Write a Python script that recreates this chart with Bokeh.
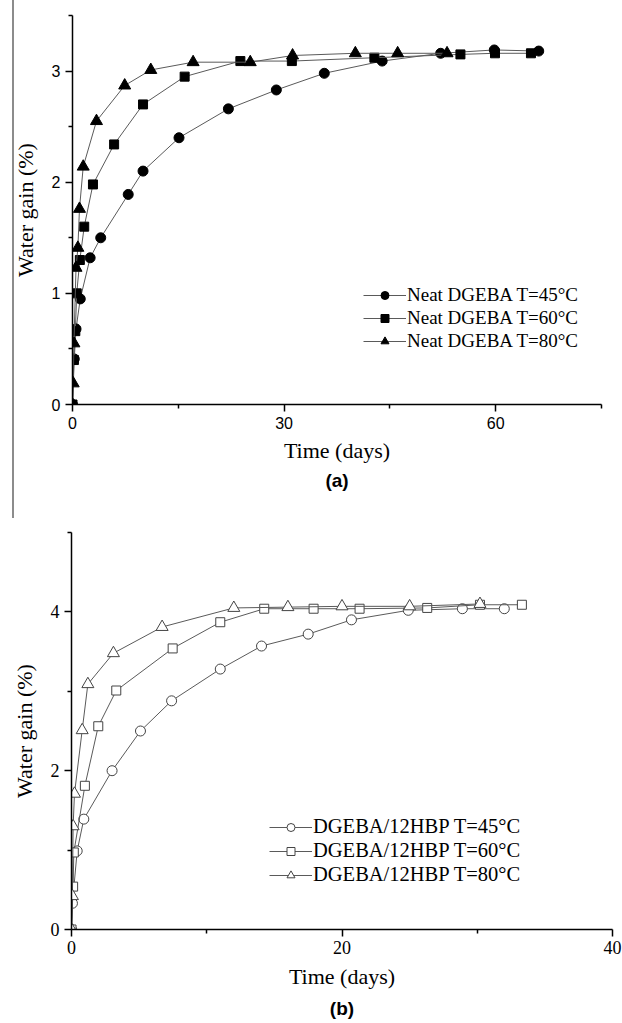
from bokeh.plotting import figure
from bokeh.models import (Range1d, FixedTicker, Legend, LegendItem, Title)
from bokeh.layouts import column
from bokeh.embed import file_html
from bokeh.resources import INLINE

# ---------------- Panel (a): Neat DGEBA ----------------
a_t45 = [0, 0.25, 0.5, 1.1, 2.5, 4.0, 7.9, 10.0, 15.1, 22.1, 28.9, 35.7, 43.9, 52.2, 59.8, 66.1]
a_w45 = [0, 0.41, 0.68, 0.95, 1.32, 1.50, 1.89, 2.10, 2.40, 2.66, 2.83, 2.98, 3.09, 3.16, 3.19, 3.18]
a_t60 = [0, 0.2, 0.4, 0.6, 1.04, 1.66, 2.9, 5.9, 10.0, 15.9, 23.8, 31.1, 42.8, 55.0, 59.9, 65.0]
a_w60 = [0, 0.40, 0.66, 1.0, 1.30, 1.60, 1.98, 2.34, 2.70, 2.95, 3.09, 3.09, 3.12, 3.15, 3.16, 3.16]
a_t80 = [0, 0.1, 0.2, 0.5, 0.76, 0.99, 1.52, 3.4, 7.4, 11.1, 17.1, 25.2, 31.2, 40.1, 46.1, 53.1]
a_w80 = [0, 0.19, 0.55, 1.23, 1.41, 1.76, 2.14, 2.55, 2.87, 3.01, 3.08, 3.08, 3.14, 3.16, 3.16, 3.16]
a_labels = ["Neat DGEBA T=45°C", "Neat DGEBA T=60°C", "Neat DGEBA T=80°C"]

# ---------------- Panel (b): DGEBA/12HBP ----------------
b_t45 = [0, 0.07, 0.42, 0.91, 3.0, 5.1, 7.4, 11.0, 14.05, 17.5, 20.7, 24.9, 28.9, 32.0]
b_w45 = [0, 0.33, 0.99, 1.39, 2.00, 2.50, 2.88, 3.28, 3.57, 3.72, 3.90, 4.02, 4.04, 4.04]
b_t60 = [0, 0.12, 0.17, 0.99, 1.98, 3.31, 7.48, 11.0, 14.25, 17.9, 21.3, 26.3, 30.2, 33.3]
b_w60 = [0, 0.54, 0.97, 1.81, 2.56, 3.01, 3.54, 3.87, 4.04, 4.04, 4.04, 4.05, 4.09, 4.09]
b_t80 = [0, 0.07, 0.12, 0.22, 0.79, 1.21, 3.1, 6.7, 12.0, 16.0, 20.0, 25.0, 30.2]
b_w80 = [0, 0.42, 1.30, 1.71, 2.51, 3.09, 3.48, 3.81, 4.05, 4.06, 4.07, 4.07, 4.10]
b_labels = ["DGEBA/12HBP T=45°C", "DGEBA/12HBP T=60°C", "DGEBA/12HBP T=80°C"]

SERIF = "Liberation Serif"
SANS = "Liberation Sans"
LINE_COL = "#5a5a5a"


def style_axes(p, tick_font, tick_size):
    for ax in (p.xaxis[0], p.yaxis[0]):
        ax.axis_line_width = 1.5
        ax.axis_line_color = "black"
        ax.major_tick_in = 0
        ax.major_tick_out = 7
        ax.minor_tick_in = 0
        ax.minor_tick_out = 4
        ax.major_tick_line_width = 1.5
        ax.minor_tick_line_width = 1.5
        ax.major_label_text_font = tick_font
        ax.major_label_text_font_size = tick_size
        ax.major_label_text_color = "black"
        ax.axis_label_text_font = SERIF
        ax.axis_label_text_font_size = "22px"
        ax.axis_label_text_font_style = "normal"
        ax.axis_label_text_color = "black"
    p.xgrid.visible = False
    p.ygrid.visible = False
    p.outline_line_color = None


def make_legend(p, items, loc, spacing, fsize):
    leg = Legend(items=items, location=loc, padding=0, margin=0, spacing=spacing,
                 glyph_width=43, glyph_height=20, label_height=20, label_standoff=1,
                 background_fill_alpha=0, border_line_color=None,
                 label_text_font=SERIF, label_text_font_size=fsize,
                 label_text_color="black")
    p.add_layout(leg)


# ---------- figure (a) ----------
pa = figure(width=622, height=518, output_backend="svg", toolbar_location=None,
            x_range=Range1d(0, 75), y_range=Range1d(0, 3.5),
            min_border_left=72, min_border_right=21, min_border_top=15,
            min_border_bottom=114, x_axis_label="Time (days)",
            y_axis_label="Water gain (%)", frame_align=False)
pa.xaxis.ticker = FixedTicker(ticks=[0, 30, 60], minor_ticks=[15, 45, 75])
pa.yaxis.ticker = FixedTicker(ticks=[0, 1, 2, 3], minor_ticks=[0.5, 1.5, 2.5, 3.5])
style_axes(pa, SANS, "16px")
pa.yaxis.axis_label_standoff = 11
pa.xaxis.major_label_standoff = 5
pa.xaxis.axis_label_standoff = 6

items_a = []
for t, w, mk, sz, lab in [(a_t45, a_w45, "circle", 10, a_labels[0]),
                          (a_t60, a_w60, "square", 9, a_labels[1]),
                          (a_t80, a_w80, "triangle", 12, a_labels[2])]:
    lr = pa.line(t, w, line_color=LINE_COL, line_width=1)
    sr = pa.scatter(t, w, marker=mk, size=sz, fill_color="black", line_color="black")
    items_a.append(LegendItem(label=lab, renderers=[lr, sr]))
make_legend(pa, items_a, (291, 52), 1, "19px")
pa.add_layout(Title(text="(a)", align="center", text_font=SANS, text_font_size="19px",
                    text_font_style="bold", text_color="black", standoff=4), "below")

# scan border line at the left of panel (a), painted behind a transparent canvas
pa.border_fill_color = None
pa.styles = {"background-image": "linear-gradient(to right, #ffffff 12px, #8c8c8c 12px, #8c8c8c 14px, #ffffff 14px)"}

# ---------- figure (b) ----------
pb = figure(width=622, height=505, output_backend="svg", toolbar_location=None,
            x_range=Range1d(0, 40), y_range=Range1d(0, 5),
            min_border_left=71, min_border_right=10, min_border_top=14,
            min_border_bottom=93, x_axis_label="Time (days)",
            y_axis_label="Water gain (%)", frame_align=False)
pb.xaxis.ticker = FixedTicker(ticks=[0, 20, 40], minor_ticks=[10, 30])
pb.yaxis.ticker = FixedTicker(ticks=[0, 2, 4], minor_ticks=[1, 3, 5])
style_axes(pb, SERIF, "18px")
pb.yaxis.axis_label_standoff = 11
pb.xaxis.major_label_standoff = 4
pb.xaxis.axis_label_standoff = 7

items_b = []
for t, w, mk, sz, lab in [(b_t45, b_w45, "circle", 10, b_labels[0]),
                          (b_t60, b_w60, "square", 9, b_labels[1]),
                          (b_t80, b_w80, "triangle", 12, b_labels[2])]:
    lr = pb.line(t, w, line_color=LINE_COL, line_width=1)
    sr = pb.scatter(t, w, marker=mk, size=sz, fill_color="white", line_color="#444444",
                    line_width=1)
    items_b.append(LegendItem(label=lab, renderers=[lr, sr]))
make_legend(pb, items_b, (198, 43), 1, "20.5px")
pb.add_layout(Title(text="(b)", align="center", text_font=SANS, text_font_size="19px",
                    text_font_style="bold", text_color="black", standoff=9), "below")

layout = column(pa, pb, spacing=0)
open("out.html", "w").write(file_html(layout, INLINE))
